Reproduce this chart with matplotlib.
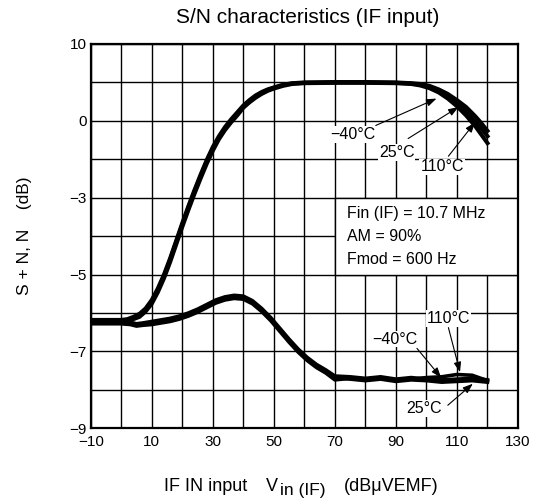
import matplotlib
matplotlib.use("Agg")
import matplotlib.pyplot as plt
from matplotlib.patches import Rectangle

plt.rcParams['font.family'] = ['Liberation Sans', 'DejaVu Sans']

# ---- data (y in grid units: label "10"=10, "0"=0, "-3"=-10, "-5"=-20, "-7"=-30, "-9"=-40)
x_ticks = [-10, 10, 30, 50, 70, 90, 110, 130]
x_ticklabels = ["\u221210", "10", "30", "50", "70", "90", "110", "130"]
y_ticks = [10, 0, -10, -20, -30, -40]
y_ticklabels = ["10", "0", "\u22123", "\u22125", "\u22127", "\u22129"]

sn_x = [-10, -5, 0, 2, 4, 6, 8, 10, 12, 14, 16, 18, 20, 22, 24, 26, 28, 30, 32, 34, 36, 38,
        40, 42, 44, 46, 48, 50, 53, 56, 60, 70, 80, 90, 95, 98, 101, 104, 107, 110, 113,
        116, 118, 120]
sn_m40 = [-25.9, -25.9, -25.9, -25.8, -25.5, -25.1, -24.4, -23.3, -21.8, -20.0, -17.9, -15.6,
          -13.3, -11.1, -9.0, -7.0, -5.1, -3.4, -2.0, -0.8, 0.2, 1.1, 2.0, 2.7, 3.3, 3.75,
          4.1, 4.35, 4.7, 4.9, 5.0, 5.05, 5.05, 5.0, 4.9, 4.8, 4.55, 4.1, 3.5, 2.7, 1.8,
          0.6, -0.3, -1.3]
sn_25 = [-26.0, -26.0, -26.0, -25.9, -25.7, -25.3, -24.6, -23.5, -22.0, -20.2, -18.1, -15.8,
         -13.5, -11.3, -9.2, -7.2, -5.3, -3.6, -2.2, -1.0, 0.0, 0.9, 1.9, 2.6, 3.2, 3.65,
         4.0, 4.3, 4.65, 4.85, 4.95, 5.0, 5.0, 4.95, 4.85, 4.7, 4.4, 3.9, 3.2, 2.3, 1.2,
         -0.1, -1.0, -2.0]
sn_110 = [-26.2, -26.2, -26.1, -26.0, -25.8, -25.5, -24.8, -23.8, -22.3, -20.5, -18.4, -16.1,
          -13.8, -11.6, -9.5, -7.5, -5.6, -3.9, -2.4, -1.2, -0.2, 0.7, 1.7, 2.4, 3.0, 3.5,
          3.9, 4.2, 4.55, 4.8, 4.9, 4.95, 4.95, 4.9, 4.8, 4.6, 4.25, 3.7, 2.9, 1.9, 0.7,
          -0.7, -1.8, -2.9]

n_x = [-10, -5, 0, 3, 5, 7, 10, 13, 16, 19, 22, 25, 28, 31, 34, 37, 40, 43, 46, 49, 52, 55,
       58, 61, 64, 67, 70, 75, 80, 85, 90, 95, 100, 105, 110, 115, 120]
n_m40 = [-26.0, -26.1, -26.1, -26.2, -26.4, -26.3, -26.1, -25.9, -25.7, -25.4, -25.0, -24.5,
         -23.9, -23.3, -22.9, -22.7, -22.8, -23.4, -24.4, -25.6, -27.0, -28.4, -29.7, -30.8,
         -31.7, -32.4, -33.2, -33.3, -33.5, -33.3, -33.6, -33.4, -33.6, -33.7, -33.6, -33.5,
         -33.7]
n_25 = [-26.2, -26.3, -26.3, -26.4, -26.6, -26.5, -26.3, -26.1, -25.9, -25.6, -25.2, -24.7,
        -24.1, -23.5, -23.1, -22.9, -23.0, -23.6, -24.6, -25.8, -27.2, -28.6, -29.9, -31.0,
        -31.9, -32.6, -33.4, -33.6, -33.8, -33.6, -33.9, -33.7, -33.8, -34.0, -33.9, -33.8,
        -34.0]
n_110 = [-26.4, -26.4, -26.4, -26.5, -26.7, -26.6, -26.5, -26.3, -26.1, -25.8, -25.4, -24.9,
         -24.3, -23.7, -23.3, -23.1, -23.2, -23.8, -24.8, -26.0, -27.4, -28.8, -30.1, -31.2,
         -32.1, -32.8, -33.7, -33.5, -33.7, -33.4, -33.8, -33.6, -33.4, -33.3, -33.0, -33.1,
         -33.8]

note_lines = ["Fin (IF) = 10.7 MHz", "AM = 90%", "Fmod = 600 Hz"]

W, H = 537, 499
fig = plt.figure(figsize=(W / 100, H / 100), dpi=100)
ax = fig.add_axes([90.7 / W, 1 - 428.3 / H, (518 - 90.7) / W, (428.3 - 44) / H])
ax.set_xlim(-10, 130)
ax.set_ylim(-40, 10)

# grid
for gx in range(-10, 131, 10):
    ax.axvline(gx, color='black', lw=1.0, zorder=1)
for gy in range(-40, 11, 5):
    ax.axhline(gy, color='black', lw=1.0, zorder=1)

# note box
ax.add_patch(Rectangle((70, -20), 60, 10, facecolor='white', edgecolor='black', lw=1.0, zorder=2))
for i, t in enumerate(note_lines):
    ax.text(74.1, -12.0 - i * 3.05, t, fontsize=11.5, va='center', ha='left', zorder=3)

# curves
for ys in (sn_m40, sn_25, sn_110):
    ax.plot(sn_x, ys, color='black', lw=2.9, solid_joinstyle='round', zorder=4)
for ys in (n_m40, n_25, n_110):
    ax.plot(n_x, ys, color='black', lw=2.6, solid_joinstyle='round', zorder=4)

arrow = dict(arrowstyle='-|>,head_length=0.6,head_width=0.22', color='black', lw=0.8,
             shrinkA=0, shrinkB=0)
box = dict(facecolor='white', edgecolor='none', pad=0.6)

def label(txt, tx, ty, ax0, ay0, ax1, ay1):
    ax.text(tx, ty, txt, fontsize=11.5, ha='center', va='center', bbox=box, zorder=5)
    ax.annotate('', xy=(ax1, ay1), xytext=(ax0, ay0), arrowprops=arrow, zorder=6)

label("\u221240\u00b0C", 75.8, -1.8, 83.4, -0.6, 103.3, 2.9)
label("25\u00b0C", 90.3, -4.1, 94.0, -2.3, 110.5, 1.8)
label("110\u00b0C", 105.1, -6.0, 107.2, -4.6, 115.9, -0.2)

label("110\u00b0C", 107.2, -25.7, 107.2, -26.9, 111.0, -32.7)
label("\u221240\u00b0C", 89.8, -28.4, 96.9, -29.6, 104.8, -33.4)
label("25\u00b0C", 99.3, -37.4, 107.0, -37.0, 115.2, -34.2)

ax.set_xticks(x_ticks)
ax.set_xticklabels(x_ticklabels, fontsize=11)
ax.set_yticks(y_ticks)
ax.set_yticklabels(y_ticklabels, fontsize=11)
ax.tick_params(axis='x', length=0, pad=5)
ax.tick_params(axis='y', length=0, pad=3)
for s in ax.spines.values():
    s.set_linewidth(1.6)
    s.set_zorder(7)

fig.text(308 / W, 1 - 17.5 / H, "S/N characteristics (IF input)", fontsize=15,
         ha='center', va='center')
fig.text(25 / W, 1 - 236 / H, "S + N, N    (dB)", fontsize=12.5, rotation=90,
         ha='center', va='center')
# x label pieces
fig.text(164 / W, 1 - 491 / H, "IF IN input", fontsize=13, ha='left', va='baseline')
fig.text(266 / W, 1 - 491 / H, "V", fontsize=13, ha='left', va='baseline')
fig.text(279.5 / W, 1 - 495.5 / H, "in (IF)", fontsize=12.5, ha='left', va='baseline')
fig.text(344 / W, 1 - 491 / H, "(dB\u03bcVEMF)", fontsize=13, ha='left', va='baseline')

fig.savefig("out.png", dpi=100)
